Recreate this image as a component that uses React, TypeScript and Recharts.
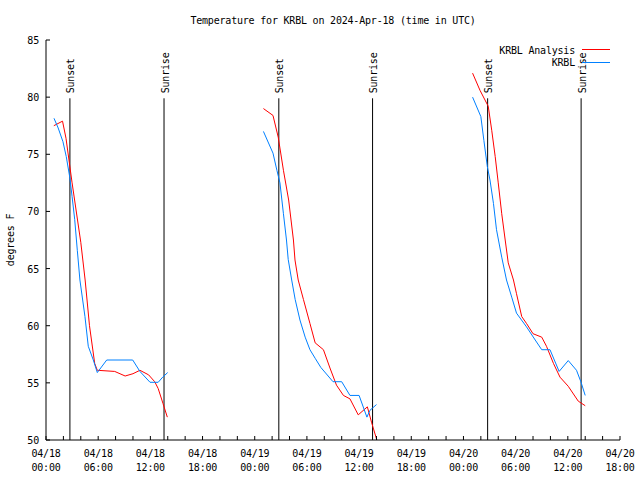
import { LineChart, Line, XAxis, YAxis, ReferenceLine } from "recharts";

const FONT = "'DejaVu Sans Mono', monospace";
const RED = "#ff0000";
const BLUE = "#0080ff";

const TITLE = "Temperature for KRBL on 2024-Apr-18 (time in UTC)";
const Y_LABEL = "degrees F";
const ANALYSIS_NAME = "KRBL Analysis";
const OBS_NAME = "KRBL";

// x values are hours since 2024-04-18 00:00 UTC
const analysisHours1 = [0.9, 1.9, 2.3, 3, 4, 4.5, 5, 5.6, 5.9, 7.9, 9.1, 10, 10.8, 11.8, 12.5, 12.9, 13.45, 13.95];
const analysisTemps1 = [77.5, 77.9, 76.4, 72.5, 67.3, 64, 60, 56.7, 56.1, 56, 55.6, 55.8, 56.1, 55.7, 55.1, 54.5, 53.2, 52];
const obsHours1 = [0.92, 1.4, 1.95, 2.33, 2.73, 3, 3.3, 3.6, 3.9, 4.48, 4.86, 5.44, 5.9, 6.98, 9.97, 10.8, 11.96, 12.9, 13.42, 13.99];
const obsTemps1 = [78.15, 77.3, 76.1, 74.8, 73, 71.3, 69.3, 66.6, 64, 60.8, 58.2, 57, 55.9, 57, 57, 56, 55.05, 55.05, 55.5, 55.9];

const analysisHours2 = [25, 26.1, 26.7, 27.3, 27.9, 28.45, 28.63, 29, 29.6, 30.35, 30.95, 31.9, 32.65, 33.4, 34.2, 34.95, 35.9, 36.95, 37.45, 38, 38.3];
const analysisTemps2 = [79, 78.4, 76.5, 73.6, 71, 67.5, 65.75, 64, 62.3, 60.2, 58.5, 57.9, 56.3, 54.8, 53.9, 53.6, 52.2, 52.9, 51.5, 50.1, 49.4];
const obsHours2 = [25, 26.1, 26.55, 26.9, 27.3, 27.65, 27.85, 28.25, 28.65, 29.2, 29.8, 30.35, 30.95, 31.6, 33, 34, 34.95, 36, 36.9, 37.25, 38];
const obsTemps2 = [77, 75.1, 73.6, 72.5, 69.8, 67.5, 65.8, 64, 62.3, 60.5, 59, 57.9, 57.15, 56.35, 55.1, 55.1, 53.9, 53.9, 52, 52.6, 53.1];

const analysisHours3 = [49.05, 49.9, 50.85, 51.25, 51.65, 52, 52.4, 52.8, 53.15, 53.75, 54.1, 54.7, 55.25, 56, 57, 57.55, 58.35, 59.1, 60.05, 61.2, 62];
const analysisTemps3 = [82.1, 80.6, 79.2, 77.1, 74.8, 72.5, 69.8, 67.5, 65.5, 64, 62.8, 60.8, 60.2, 59.3, 59, 58.2, 56.7, 55.5, 54.7, 53.4, 53];
const obsHours3 = [49.05, 50, 50.35, 50.75, 51.05, 51.45, 51.8, 52.4, 52.95, 53.55, 54.1, 55.25, 56.25, 57, 57.95, 59, 60.05, 61, 61.5, 62];
const obsTemps3 = [80, 78.3, 76.2, 73.9, 72.75, 70.7, 68.4, 66, 64, 62.5, 61.1, 59.9, 58.75, 57.9, 57.9, 56, 56.95, 56.1, 55.1, 53.9];

const sunsetHours = [2.75, 26.77, 50.78];
const sunriseHours = [13.57, 37.55, 61.53];

const xMajorTicks = [0, 6, 12, 18, 24, 30, 36, 42, 48, 54, 60, 66];
const xTickDates = ["04/18", "04/18", "04/18", "04/18", "04/19", "04/19", "04/19", "04/19", "04/20", "04/20", "04/20", "04/20"];
const xTickTimes = ["00:00", "06:00", "12:00", "18:00", "00:00", "06:00", "12:00", "18:00", "00:00", "06:00", "12:00", "18:00"];
const xAllTicks = Array.from({ length: 34 }, (_, i) => i * 2);
const yTicks = [50, 55, 60, 65, 70, 75, 80, 85];

const toPoints = (hours: number[], temps: number[]) =>
  hours.map((t, i) => ({ t, v: temps[i] }));

const segments = [
  { key: "a1", color: RED, data: toPoints(analysisHours1, analysisTemps1) },
  { key: "a2", color: RED, data: toPoints(analysisHours2, analysisTemps2) },
  { key: "a3", color: RED, data: toPoints(analysisHours3, analysisTemps3) },
  { key: "o1", color: BLUE, data: toPoints(obsHours1, obsTemps1) },
  { key: "o2", color: BLUE, data: toPoints(obsHours2, obsTemps2) },
  { key: "o3", color: BLUE, data: toPoints(obsHours3, obsTemps3) },
];

const textStyle = { fontFamily: FONT, fontSize: 10, letterSpacing: -0.2, fill: "#000" };

function BottomTick({ x, y, payload }: any) {
  const idx = xMajorTicks.indexOf(payload.value);
  return (
    <g>
      <line x1={x} x2={x} y1={y} y2={y - 4} stroke="#000" />
      {idx >= 0 && (
        <text x={x} y={y + 17} textAnchor="middle" style={textStyle}>
          <tspan x={x}>{xTickDates[idx]}</tspan>
          <tspan x={x} dy={14}>{xTickTimes[idx]}</tspan>
        </text>
      )}
    </g>
  );
}

function TopTick({ x, y }: any) {
  return <line x1={x} x2={x} y1={y} y2={y + 4} stroke="#000" />;
}

function LeftTick({ x, y, payload }: any) {
  return (
    <g>
      <line x1={x} x2={x + 4} y1={y} y2={y} stroke="#000" />
      <text x={x - 7} y={y + 4} textAnchor="end" style={textStyle}>
        {payload.value}
      </text>
    </g>
  );
}

function RightTick({ x, y }: any) {
  return <line x1={x} x2={x - 4} y1={y} y2={y} stroke="#000" />;
}

function sunShape(text: string) {
  return (p: any) => (
    <g>
      <line x1={p.x1} y1={p.y1} x2={p.x2} y2={p.y2} stroke="#000" strokeWidth={1} />
      <text
        x={p.x1 + 4.5}
        y={p.y1 - 5}
        transform={`rotate(-90, ${p.x1 + 4.5}, ${p.y1 - 5})`}
        textAnchor="start"
        style={textStyle}
      >
        {text}
      </text>
    </g>
  );
}

export default function App() {
  return (
    <div style={{ position: "absolute", left: 0, top: 0, width: 640, height: 480, background: "#fff" }}>
      <LineChart width={640} height={480} margin={{ top: 40, right: 20, bottom: 0, left: 0 }}>
        <XAxis
          dataKey="t"
          type="number"
          domain={[0, 66]}
          allowDataOverflow
          ticks={xAllTicks}
          interval={0}
          height={40}
          tickSize={0}
          tickMargin={0}
          tickLine={false}
          axisLine={{ stroke: "#000" }}
          tick={<BottomTick />}
        />
        <XAxis
          xAxisId="top"
          orientation="top"
          type="number"
          domain={[0, 66]}
          allowDataOverflow
          ticks={xAllTicks}
          interval={0}
          height={0}
          tickSize={0}
          tickMargin={0}
          tickLine={false}
          axisLine={{ stroke: "#000" }}
          tick={<TopTick />}
        />
        <YAxis
          type="number"
          domain={[50, 85]}
          allowDataOverflow
          ticks={yTicks}
          interval={0}
          width={46}
          tickSize={0}
          tickMargin={0}
          tickLine={false}
          axisLine={{ stroke: "#000" }}
          tick={<LeftTick />}
        />
        <YAxis
          yAxisId="right"
          orientation="right"
          type="number"
          domain={[50, 85]}
          allowDataOverflow
          ticks={yTicks}
          interval={0}
          width={0}
          tickSize={0}
          tickMargin={0}
          tickLine={false}
          axisLine={{ stroke: "#000" }}
          tick={<RightTick />}
        />
        {sunsetHours.map((h) => (
          <ReferenceLine
            key={`ss${h}`}
            segment={[{ x: h, y: 79.9 }, { x: h, y: 50 }]}
            stroke="#000"
            shape={sunShape("Sunset")}
          />
        ))}
        {sunriseHours.map((h) => (
          <ReferenceLine
            key={`sr${h}`}
            segment={[{ x: h, y: 79.9 }, { x: h, y: 50 }]}
            stroke="#000"
            shape={sunShape("Sunrise")}
          />
        ))}
        {segments.map((s) => (
          <Line
            key={s.key}
            data={s.data}
            dataKey="v"
            type="linear"
            stroke={s.color}
            strokeWidth={1}
            dot={false}
            activeDot={false}
            isAnimationActive={false}
          />
        ))}
      </LineChart>
      <svg
        width={640}
        height={480}
        style={{ position: "absolute", left: 0, top: 0, pointerEvents: "none" }}
      >
        <text x={333} y={24} textAnchor="middle" style={textStyle}>
          {TITLE}
        </text>
        <text x={14} y={240} textAnchor="middle" transform="rotate(-90, 14, 240)" style={textStyle}>
          {Y_LABEL}
        </text>
        <text x={575} y={54} textAnchor="end" style={textStyle}>
          {ANALYSIS_NAME}
        </text>
        <line x1={582} x2={610} y1={49.5} y2={49.5} stroke={RED} />
        <text x={575} y={66} textAnchor="end" style={textStyle}>
          {OBS_NAME}
        </text>
        <line x1={582} x2={610} y1={62.5} y2={62.5} stroke={BLUE} />
      </svg>
    </div>
  );
}
